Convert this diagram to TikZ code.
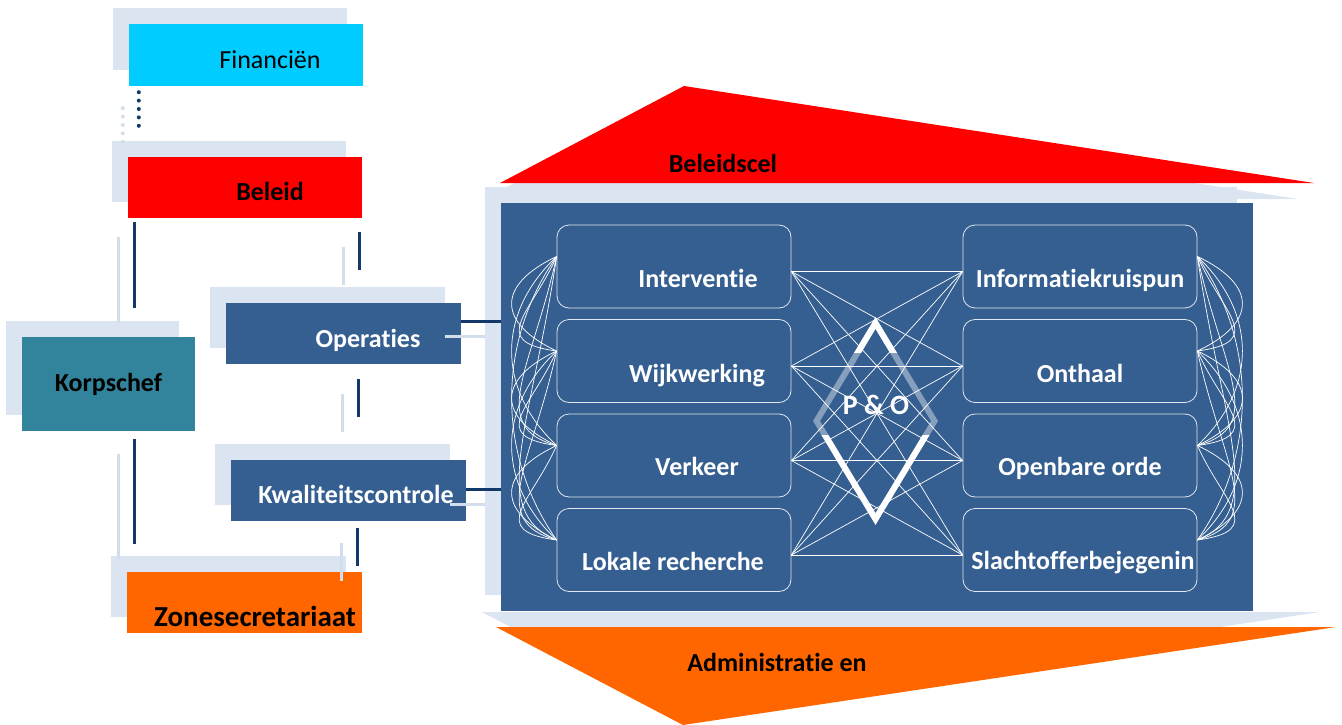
\documentclass[tikz,border=0pt]{standalone}
\usepackage{fontspec}
\setmainfont{Carlito}[Ligatures=NoCommon]
\usetikzlibrary{calc,shadows}
\definecolor{mist}{HTML}{DBE5F1}
\definecolor{ghostc}{HTML}{D3DEEC}
\definecolor{navy}{HTML}{365F91}
\definecolor{linkc}{HTML}{12396A}
\definecolor{teal}{HTML}{31849B}
\definecolor{skyc}{HTML}{00CCFF}
\definecolor{redc}{HTML}{FF0000}
\definecolor{orangec}{HTML}{FF6600}
\tikzset{
    box/.style={minimum width=234pt, minimum height=61pt, inner sep=0pt,
        general shadow={fill=mist, shadow xshift=-16pt, shadow yshift=16pt}},
    unit/.style={draw=white!85!navy, line width=0.8pt, rounded corners=12pt,
        minimum width=234pt, minimum height=83pt, inner sep=0pt},
    link/.style={draw=linkc, line width=3pt},
    ghost/.style={draw=ghostc, line width=3pt, transform canvas={xshift=-16pt, yshift=-15pt}},
    dotline/.style={line width=4pt, line cap=round, dash pattern=on 0pt off 8.4pt},
    web/.style={draw=white, line width=0.7pt},
    pen/.style={draw=white, line width=6pt, line join=miter},
    lbl/.style={inner sep=0pt, text height=17pt, text depth=0pt, font=\fontsize{26}{30}\selectfont},
    blbl/.style={lbl, font=\fontsize{26}{30}\selectfont\bfseries},
}
\begin{document}
\begin{tikzpicture}[x=1pt, y=-1pt]
    \useasboundingbox (0,0) rectangle (1342,725);

    % big block with the units
    \node[box, fill=navy, minimum width=752pt, minimum height=408pt] (big) at (877,407) {};
    \fill[mist] (484,199) -- (668,102) -- (1298,199) -- cycle;
    \fill[redc] (500,183) -- (684,86) -- (1314,183) -- cycle;
    \fill[mist] (482,612) -- (1320,612) -- (667,710) -- cycle;
    \fill[orangec] (496,627) -- (1336,627) -- (683,725) -- cycle;
    \node[blbl] (cel) at (723,164) {Beleidscel};
    \node[blbl] (adm) at (777,663) {Administratie en};

    % left column
    \node[box, fill=skyc] (fin) at (246,55) [minimum height=62pt] {};
    \node[box, fill=redc] (bel) at (245,187.5) {};
    \node[box, fill=teal, minimum width=173pt, minimum height=94pt] (korp) at (108.5,384) {};
    \node[box, fill=navy, minimum width=235pt] (oper) at (343.5,333.5) {};
    \node[box, fill=navy, minimum width=235pt] (kwal) at (348.5,490.5) {};
    \node[box, fill=orangec, minimum width=235pt] (zone) at (244.5,602.5) {};

    \node[lbl] (fin-t) at ([shift={(24,5)}]fin.center) {Financiën};
    \node[blbl] (bel-t) at ([shift={(25,4.5)}]bel.center) {Beleid};
    \node[blbl] (korp-t) at ([shift={(0,-1)}]korp.center) {Korpschef};
    \node[blbl, white] (oper-t) at ([shift={(24.5,5.5)}]oper.center) {Operaties};
    \node[blbl, white] (kwal-t) at ([shift={(7.5,4.5)}]kwal.center) {Kwaliteitscontrole};
    \node[blbl, font=\fontsize{29}{33}\selectfont\bfseries] (zone-t) at ([shift={(10.5,15.5)}]zone.center) {Zonesecretariaat};

    % connectors, light copy first
    \foreach \s in {ghost, link}
    {
        \draw[\s, shorten <=4pt, shorten >=29pt] ([xshift=7pt]bel.south west) -- ([xshift=7pt]bel.south west |- korp.north);
        \draw[\s, shorten <=8pt, shorten >=28pt] ([xshift=113pt]korp.south west) -- ([xshift=113pt]korp.south west |- zone.north);
        \draw[\s, shorten <=14pt, shorten >=33pt] ([xshift=-3pt]bel.south east) -- ([xshift=-3pt]bel.south east |- oper.north);
        \draw[\s, shorten <=15pt, shorten >=43pt] ([xshift=14.5pt]oper.south) -- ([xshift=14.5pt]oper.south |- kwal.north);
        \draw[\s, shorten <=7pt, shorten >=6pt] ([xshift=8.5pt]kwal.south) -- ([xshift=8.5pt]kwal.south |- zone.north);
        \draw[\s] ([yshift=12.5pt]oper.east) -- ([yshift=12.5pt]oper.east -| big.west);
        \draw[\s] ([yshift=1.5pt]kwal.east) -- ([yshift=1.5pt]kwal.east -| big.west);
    }
    \draw[dotline, draw=ghostc, transform canvas={xshift=-16pt, yshift=-16pt}, shorten <=6pt, shorten >=30pt]
        ([xshift=10pt]fin.south west) -- ([xshift=10pt]fin.south west |- bel.north);
    \draw[dotline, draw=linkc, shorten <=6pt, shorten >=30pt]
        ([xshift=10pt]fin.south west) -- ([xshift=10pt]fin.south west |- bel.north);

    % units
    \foreach \n/\y/\dx/\dy/\t in {1/266.5/24/12.5/Interventie, 2/361/23/13/Wijkwerking,
        3/455.5/23/11.5/Verkeer, 4/550/-1/12/Lokale recherche}
    {
        \node[unit] (L\n) at (674,\y) {};
        \node[blbl, white] (L\n-t) at ([shift={(\dx,\dy)}]L\n.center) {\t};
    }
    \foreach \n/\y/\dx/\dy/\t in {1/266.5/0/12.5/Informatiekruispun, 2/361/0/13/Onthaal,
        3/455.5/0/11.5/Openbare orde, 4/550/3/11/Slachtofferbejegenin}
    {
        \node[unit] (R\n) at (1080,\y) {};
        \node[blbl, white] (R\n-t) at ([shift={(\dx,\dy)}]R\n.center) {\t};
    }

    % web between the units
    \foreach \i in {1,...,4} \foreach \j in {1,...,4}
        \draw[web] ([yshift=-5pt]L\i.east) -- ([yshift=-5pt]R\j.west);
    \foreach \i/\j in {1/2,1/3,1/4,2/3,2/4,3/4}
    {
        \pgfmathsetmacro\d{94.5*(\j-\i)}
        \draw[web] ([yshift=10pt]L\i.west) .. controls +(-60,0.3*\d) and +(-60,-0.3*\d) .. ([yshift=10pt]L\j.west);
        \draw[web] ([yshift=10pt]L\i.west) .. controls +(-25,0.6*\d) and +(-70,-0.1*\d) .. ([yshift=10pt]L\j.west);
        \draw[web] ([yshift=10pt]R\i.east) .. controls +(60,0.3*\d) and +(60,-0.3*\d) .. ([yshift=10pt]R\j.east);
        \draw[web] ([yshift=10pt]R\i.east) .. controls +(25,0.6*\d) and +(70,-0.1*\d) .. ([yshift=10pt]R\j.east);
    }

    % P & O diamond
    \coordinate (dn) at (875.5,323);
    \coordinate (de) at (934.5,421);
    \coordinate (ds) at (875.5,519);
    \coordinate (dw) at (816.5,421);
    \draw[pen, draw opacity=.4] (dn) -- (de) -- (ds) -- (dw) -- cycle;
    \begin{scope}
        \clip (780,300) rectangle (970,352);
        \draw[pen] (dn) -- (de) -- (ds) -- (dw) -- cycle;
    \end{scope}
    \begin{scope}
        \clip (780,435) rectangle (970,540);
        \draw[pen] (dn) -- (de) -- (ds) -- (dw) -- cycle;
    \end{scope}
    \node[blbl, white, font=\fontsize{28}{32}\selectfont\bfseries] (po) at (876,406) {P \& O};
\end{tikzpicture}
\end{document}
